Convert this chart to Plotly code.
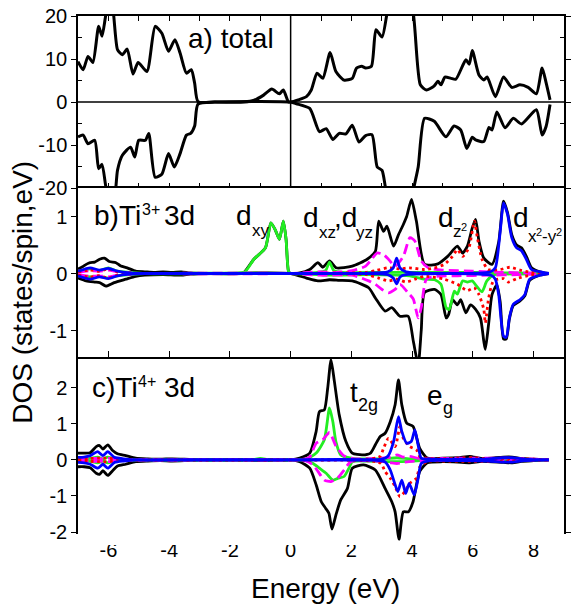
import plotly.graph_objects as go

# ---------------- data (energy in eV, DOS in states/spin/eV) ----------------
# panel a: total DOS
E_a_up = [-7.0,-6.83,-6.67,-6.51,-6.32,-6.21,-6.1,-6.0,-5.88,-5.7,-5.54,-5.38,-5.19,-5.02,-4.73,-4.46,-4.24,-4.02,-3.81,-3.64,-3.43,-3.27,-3.16,-3.05,-2.5,-1.53,-1.2,-0.89,-0.62,-0.37,-0.24,-0.07,0.0,0.25,0.52,0.68,0.87,1.06,1.3,1.49,1.76,2.03,2.17,2.34,2.47,2.66,2.81,3.01,3.17,3.4,3.7,4.04,4.27,4.47,4.72,4.85,4.95,5.08,5.28,5.44,5.77,5.88,5.98,6.2,6.36,6.47,6.74,7.01,7.28,7.55,7.82,8.09,8.28,8.41,8.54]
a_up = [9.4,7.5,10.6,9.2,17.6,15.3,19.6,24.0,23.0,12.2,11.0,12.3,6.5,9.2,7.1,17.6,16.0,11.8,14.5,11.4,6.7,7.5,4.4,0.1,0.0,0.0,0.4,1.6,3.0,1.9,2.8,0.0,0.0,0.5,1.25,2.8,6.7,5.5,11.5,7.1,5.1,5.5,7.9,8.3,7.9,8.3,16.8,15.1,20.5,30.0,30.0,20.5,4.0,2.8,3.7,4.8,4.0,5.8,5.5,5.3,9.8,8.8,12.0,6.3,5.1,5.8,1.25,5.8,3.4,4.0,3.4,1.9,7.9,4.5,0.5]
E_a_dn = [-7.0,-6.83,-6.67,-6.45,-6.32,-6.21,-6.08,-5.95,-5.8,-5.7,-5.54,-5.27,-5.13,-5.0,-4.78,-4.67,-4.46,-4.24,-4.02,-3.83,-3.64,-3.43,-3.29,-3.16,-3.05,-2.5,0.0,0.19,0.63,0.95,1.17,1.39,1.6,1.82,2.03,2.25,2.47,2.68,2.85,3.01,3.12,3.4,3.8,4.06,4.2,4.41,4.73,5.11,5.38,5.6,5.8,5.98,6.09,6.36,6.53,6.63,6.79,7.06,7.33,7.6,8.09,8.28,8.41,8.54]
a_dn = [-8.1,-7.7,-9.7,-8.9,-15.5,-14.5,-19.8,-23.0,-22.0,-15.9,-12.4,-10.5,-12.8,-8.9,-8.9,-7.3,-17.5,-16.8,-12.0,-15.1,-12.0,-7.7,-7.3,-5.6,-0.5,0.0,0.0,-0.4,-1.5,-6.9,-6.2,-8.7,-7.3,-7.4,-5.4,-9.3,-7.8,-7.6,-15.1,-15.9,-19.8,-30.0,-30.0,-19.8,-15.1,-3.8,-4.5,-8.1,-5.6,-6.5,-10.8,-8.2,-8.8,-9.2,-5.9,-6.5,-2.3,-6.0,-3.8,-5.1,-1.8,-7.7,-5.7,-0.6]

# panel b: Ti3+ 3d
E_b_tot_up = [-7.0,-6.85,-6.73,-6.6,-6.45,-6.29,-6.13,-5.97,-5.75,-5.59,-5.38,-5.1,-4.8,-4.5,-4.2,-3.9,-3.6,-3.3,-2.5,-1.6,-1.53,-1.21,-0.83,-0.65,-0.51,-0.37,-0.24,-0.15,-0.07,0.0,0.3,0.63,0.9,1.06,1.28,1.5,2.03,2.52,2.79,2.9,3.06,3.17,3.39,3.55,3.71,3.82,3.98,4.14,4.41,4.85,5.17,5.49,5.66,5.82,5.98,6.09,6.2,6.36,6.63,6.85,7.01,7.14,7.28,7.44,7.6,7.76,7.93,8.2,8.5]
b_tot_up = [0.08,0.12,0.16,0.19,0.20,0.25,0.27,0.21,0.19,0.13,0.10,0.04,0.03,0.02,0.03,0.02,0.03,0.01,0.0,0.0,0.02,0.25,0.45,0.89,0.77,0.60,0.92,0.60,0.04,0.0,0.01,0.07,0.19,0.11,0.22,0.10,0.13,0.25,0.39,0.92,0.74,0.83,0.48,0.68,0.86,1.0,1.30,0.92,0.16,0.17,0.30,0.48,0.36,0.48,0.80,0.95,0.57,0.27,0.16,0.55,1.27,1.07,0.68,0.50,0.45,0.30,0.10,0.03,0.0]
E_b_tot_dn = [-7.0,-6.73,-6.45,-6.29,-6.08,-5.81,-5.43,-5.1,-4.8,-4.2,-3.6,-3.3,-2.5,0.0,0.52,0.9,1.28,1.6,2.03,2.57,2.79,3.11,3.33,3.6,3.87,4.04,4.2,4.3,4.41,4.74,4.95,5.12,5.2,5.33,5.49,5.6,5.77,5.92,6.09,6.25,6.36,6.41,6.52,6.63,6.79,6.9,7.01,7.1,7.2,7.33,7.55,7.71,7.87,8.2,8.5]
b_tot_dn = [-0.08,-0.13,-0.15,-0.16,-0.22,-0.16,-0.10,-0.05,-0.03,-0.02,-0.03,-0.01,0.0,0.0,-0.08,-0.13,-0.11,-0.12,-0.13,-0.25,-0.43,-0.66,-0.60,-0.75,-0.75,-1.19,-1.60,-1.0,-0.33,-0.28,-0.37,-0.78,-0.72,-0.46,-0.55,-0.46,-0.69,-0.55,-0.63,-0.78,-1.19,-1.33,-0.88,-0.37,-0.20,-0.50,-1.15,-1.15,-0.80,-0.56,-0.48,-0.39,-0.12,-0.03,0.0]

E_b_xy_up = [-7.0,-6.6,-6.3,-6.0,-5.7,-5.3,-4.8,-3.0,-1.53,-1.21,-0.83,-0.65,-0.51,-0.37,-0.24,-0.15,-0.07,0.0,0.9,1.15,1.28,1.42,1.7,3.0,4.0,5.0,6.0,7.0,8.5]
b_xy_up = [0.03,0.08,0.05,0.1,0.04,0.02,0.0,0.0,0.02,0.25,0.45,0.89,0.77,0.6,0.92,0.6,0.04,0.0,0.02,0.05,0.2,0.05,0.02,0.02,0.02,0.02,0.02,0.01,0.0]
E_b_xy_dn = [-7.0,-6.6,-6.3,-6.0,-5.7,-5.3,-4.8,0.0,1.28,2.5,3.5,4.0,4.41,4.74,4.95,5.12,5.22,5.39,5.49,5.66,5.82,5.98,6.09,6.3,6.46,6.7,7.5,8.5]
b_xy_dn = [-0.03,-0.06,-0.05,-0.08,-0.04,-0.02,0.0,0.0,-0.03,-0.02,-0.03,-0.05,-0.1,-0.11,-0.19,-0.60,-0.63,-0.31,-0.36,-0.13,-0.15,-0.13,-0.2,-0.32,-0.13,-0.02,-0.01,0.0]

E_b_xz_up = [-7.0,-6.6,-6.3,-6.0,-5.7,-5.3,-4.8,0.0,1.0,1.5,2.03,2.47,2.68,2.85,3.06,3.22,3.44,3.71,3.93,4.09,4.3,4.53,5.0,6.0,7.0,8.5]
b_xz_up = [0.02,0.05,0.04,0.06,0.03,0.01,0.0,0.0,0.03,0.02,0.05,0.13,0.26,0.36,0.33,0.25,0.13,0.30,0.63,0.57,0.22,0.1,0.06,0.04,0.02,0.0]
E_b_xz_dn = [-7.0,-6.6,-6.3,-6.0,-5.7,-5.3,-4.8,0.0,1.0,2.03,2.57,2.79,3.01,3.22,3.44,3.6,3.87,4.04,4.2,4.3,4.47,4.8,5.5,6.5,7.5,8.5]
b_xz_dn = [-0.02,-0.05,-0.04,-0.06,-0.03,-0.01,0.0,0.0,-0.03,-0.03,-0.13,-0.19,-0.28,-0.34,-0.28,-0.19,-0.34,-0.45,-0.78,-0.6,-0.1,-0.05,-0.04,-0.03,-0.02,0.0]

E_b_z2_up = [-7.0,-6.6,-6.3,-6.0,-5.7,-5.3,-4.8,0.0,2.5,2.8,3.2,3.6,3.9,4.41,4.74,5.06,5.33,5.49,5.66,5.87,6.05,6.14,6.3,6.5,6.9,7.22,7.55,7.9,8.5]
b_z2_up = [0.03,0.06,0.04,0.08,0.03,0.01,0.0,0.0,0.02,0.05,0.1,0.08,0.1,0.07,0.1,0.16,0.30,0.42,0.30,0.45,0.92,0.65,0.25,0.07,0.07,0.11,0.06,0.02,0.0]
E_b_z2_dn = [-7.0,-6.6,-6.3,-6.0,-5.7,-5.3,-4.8,0.0,2.5,2.9,3.22,3.5,3.8,4.1,4.41,5.06,5.49,5.82,6.04,6.2,6.36,6.41,6.52,6.68,7.01,7.17,7.44,7.9,8.5]
b_z2_dn = [-0.03,-0.06,-0.04,-0.08,-0.03,-0.01,0.0,0.0,-0.02,-0.08,-0.13,-0.1,-0.15,-0.1,-0.05,-0.1,-0.19,-0.30,-0.25,-0.37,-0.63,-0.87,-0.43,-0.13,-0.09,-0.15,-0.09,-0.03,0.0]

E_b_x2y2_up = [-7.0,-6.6,-6.3,-6.0,-5.7,-5.3,-4.8,0.0,3.2,3.38,3.49,3.6,3.8,6.58,6.74,6.9,7.01,7.14,7.28,7.44,7.6,7.76,7.93,8.3,8.5]
b_x2y2_up = [0.04,0.1,0.06,0.09,0.04,0.01,0.0,0.0,0.03,0.1,0.27,0.1,0.03,0.03,0.10,0.74,1.24,1.04,0.63,0.45,0.40,0.25,0.07,0.02,0.0]
E_b_x2y2_dn = [-7.0,-6.6,-6.3,-6.0,-5.7,-5.3,-4.8,0.0,3.2,3.38,3.49,3.6,3.8,6.6,6.74,6.85,7.01,7.1,7.2,7.33,7.55,7.71,7.87,8.2,8.5]
b_x2y2_dn = [-0.04,-0.1,-0.06,-0.09,-0.04,-0.01,0.0,0.0,-0.02,-0.08,-0.18,-0.06,-0.02,-0.03,-0.1,-0.37,-1.10,-1.12,-0.78,-0.54,-0.46,-0.37,-0.1,-0.03,0.0]

# panel c: Ti4+ 3d
E_c_tot_up = [-7.0,-6.8,-6.6,-6.4,-6.29,-6.18,-6.02,-5.86,-5.7,-5.43,-5.1,-4.7,-4.3,-3.9,-3.5,-3.0,0.0,0.3,0.63,0.84,0.95,1.11,1.22,1.33,1.44,1.6,1.82,2.03,2.36,2.63,2.79,2.95,3.11,3.28,3.44,3.55,3.66,3.82,4.03,4.25,4.5,5.0,5.5,5.9,6.3,7.0,7.3,7.6,8.0,8.5]
c_tot_up = [0.19,0.19,0.2,0.37,0.4,0.3,0.42,0.26,0.17,0.12,0.05,0.03,0.02,0.03,0.02,0.0,0.0,0.05,0.19,0.79,1.34,1.39,1.99,2.78,2.18,1.25,0.51,0.19,0.14,0.19,0.42,0.65,0.74,1.06,1.53,2.22,1.53,1.02,0.93,0.32,0.05,0.05,0.06,0.1,0.04,0.08,0.08,0.04,0.02,0.0]
E_c_tot_dn = [-7.0,-6.8,-6.6,-6.4,-6.29,-6.18,-6.02,-5.86,-5.7,-5.43,-5.1,-4.7,-4.3,-3.9,-3.5,-3.0,0.0,0.3,0.63,0.84,1.01,1.15,1.26,1.36,1.49,1.65,1.87,2.03,2.4,2.79,3.11,3.33,3.44,3.57,3.71,3.88,4.03,4.25,4.5,5.0,5.5,5.9,6.3,7.0,7.3,7.6,8.0,8.5]
c_tot_dn = [-0.19,-0.19,-0.22,-0.37,-0.4,-0.3,-0.43,-0.3,-0.17,-0.12,-0.05,-0.03,-0.02,-0.03,-0.02,0.0,0.0,-0.05,-0.23,-0.69,-1.16,-1.34,-1.48,-1.92,-1.53,-1.11,-0.79,-0.23,-0.14,-0.28,-0.79,-1.16,-1.44,-2.2,-1.44,-1.44,-1.16,-0.32,-0.08,-0.05,-0.06,-0.08,-0.04,-0.07,-0.08,-0.04,-0.02,0.0]

E_c_xy_up = [-7.0,-6.6,-6.35,-6.18,-6.02,-5.8,-5.4,-4.8,-1.3,-1.0,-0.7,0.0,0.5,0.84,1.11,1.28,1.39,1.49,1.65,2.0,3.0,3.5,3.9,4.5,8.5]
c_xy_up = [0.02,0.04,0.08,0.03,0.08,0.03,0.01,0.0,0.0,0.04,0.0,0.0,0.02,0.19,0.56,1.44,1.06,0.51,0.14,0.05,0.03,0.06,0.03,0.01,0.0]
E_c_xy_dn = [-7.0,-6.6,-6.35,-6.18,-6.02,-5.8,-5.4,-4.8,0.0,0.5,0.74,0.95,1.17,1.39,1.55,1.76,1.92,2.03,2.5,3.5,4.5,8.5]
c_xy_dn = [-0.02,-0.04,-0.08,-0.03,-0.08,-0.03,-0.01,0.0,0.0,-0.02,-0.1,-0.23,-0.37,-0.56,-0.51,-0.46,-0.23,-0.05,-0.03,-0.05,-0.01,0.0]

E_c_xz_up = [-7.0,-6.6,-6.3,-6.0,-5.7,-5.3,-4.8,0.0,0.5,0.63,0.84,1.06,1.28,1.49,1.76,2.1,3.0,3.3,3.5,3.7,3.9,4.3,5.0,6.0,7.2,8.5]
c_xz_up = [0.02,0.05,0.03,0.05,0.02,0.01,0.0,0.0,0.03,0.08,0.46,0.56,0.76,0.39,0.11,0.03,0.05,0.08,0.14,0.08,0.1,0.03,0.04,0.05,0.05,0.0]
E_c_xz_dn = [-7.0,-6.6,-6.3,-6.0,-5.7,-5.3,-4.8,0.0,0.5,0.74,0.9,1.11,1.33,1.55,1.76,1.98,3.0,3.3,3.5,3.7,4.0,4.5,8.5]
c_xz_dn = [-0.02,-0.05,-0.03,-0.05,-0.02,-0.01,0.0,0.0,-0.03,-0.14,-0.32,-0.56,-0.6,-0.5,-0.28,-0.05,-0.04,-0.08,-0.1,-0.07,-0.04,-0.02,0.0]

E_c_z2_up = [-7.0,-6.6,-6.3,-6.0,-5.7,-5.3,-4.8,0.0,2.5,2.8,2.95,3.06,3.22,3.44,3.6,3.71,3.92,4.14,4.25,4.5,5.0,5.5,6.0,6.5,7.2,8.5]
c_z2_up = [0.02,0.04,0.05,0.05,0.02,0.01,0.0,0.0,0.02,0.05,0.1,0.32,0.6,0.37,0.93,0.6,0.37,0.28,0.1,0.04,0.03,0.05,0.06,0.03,0.04,0.0]
E_c_z2_dn = [-7.0,-6.6,-6.3,-6.0,-5.7,-5.3,-4.8,0.0,2.5,2.8,2.98,3.11,3.28,3.44,3.6,3.76,3.92,4.14,4.25,4.5,5.0,6.0,7.2,8.5]
c_z2_dn = [-0.02,-0.04,-0.05,-0.05,-0.02,-0.01,0.0,0.0,-0.02,-0.05,-0.1,-0.32,-0.51,-0.74,-1.02,-0.88,-0.65,-0.51,-0.2,-0.04,-0.03,-0.04,-0.03,0.0]

E_c_x2y2_up = [-7.0,-6.8,-6.6,-6.35,-6.18,-6.02,-5.8,-5.5,-5.0,0.0,3.0,3.2,3.39,3.55,3.66,3.82,3.97,4.09,4.2,4.3,4.6,5.5,6.5,7.0,7.3,7.7,8.5]
c_x2y2_up = [0.07,0.08,0.12,0.23,0.12,0.23,0.07,0.03,0.0,0.0,0.02,0.1,0.51,1.20,0.79,0.46,0.51,0.83,0.4,0.05,0.02,0.02,0.03,0.06,0.06,0.02,0.0]
E_c_x2y2_dn = [-7.0,-6.8,-6.6,-6.35,-6.18,-6.02,-5.8,-5.5,-5.0,0.0,3.1,3.28,3.44,3.53,3.66,3.79,3.9,4.07,4.2,4.3,4.6,5.5,6.5,7.0,7.3,7.7,8.5]
c_x2y2_dn = [-0.07,-0.08,-0.12,-0.23,-0.12,-0.23,-0.07,-0.03,0.0,0.0,-0.05,-0.28,-0.69,-0.88,-0.56,-0.93,-0.65,-0.97,-0.5,-0.1,-0.02,-0.02,-0.03,-0.06,-0.06,-0.02,0.0]

x_major_ticks = [-6, -4, -2, 0, 2, 4, 6, 8]
a_ticks = [-20, -10, 0, 10, 20]
b_ticks = [-1, 0, 1]
c_ticks = [-2, -1, 0, 1, 2]

# ---------------- layout geometry (pixels) ----------------
W, H = 573, 608
PL, PR = 78, 571          # plot left / right
PT, PB = 16, 545          # plot area top / bottom (bottom incl. overflow room)
A_TOP, AB, BC, C_BOT = 16, 188, 359, 532
XR = [-7, 9]
A_R = [-20, 20]
B_R = [-1.5, 1.5]
C_R = [-2, 2.8]

def fy(py):
    return (PB - py) / (PB - PT)

def fx(px):
    return (px - PL) / (PR - PL)

# extended data axes so curves can spill across panel borders like the original
B_OVER = 22
b_scale = (BC - AB) / (B_R[1] - B_R[0])
B_DATA_R = [B_R[0] - B_OVER / b_scale, B_R[1]]
c_scale = (C_BOT - BC) / (C_R[1] - C_R[0])
C_DATA_R = [C_R[0] - (PB - C_BOT) / c_scale, C_R[1]]

BLACK = "#000000"
GREEN = "#22ee22"
MAGENTA = "#ff00ff"
RED = "#ff0000"
BLUE = "#0000ff"

fig = go.Figure()

def add(E, V, xa, ya, color, dash="solid", width=2.8):
    if len(E) != len(V):
        raise ValueError("length mismatch %d %d" % (len(E), len(V)))
    fig.add_trace(go.Scatter(x=E, y=V, xaxis=xa, yaxis=ya, mode="lines",
                             line=dict(color=color, width=width, dash=dash,
                                       shape="spline", smoothing=0.6),
                             showlegend=False, hoverinfo="skip"))

DASH = "10px,5px"
DOT = "2.8px,3.6px"

# panel a
add(E_a_up, a_up, "x", "y", BLACK, width=3)
add(E_a_dn, a_dn, "x", "y", BLACK, width=3)
# panel b
for E, V, c, d in [
    (E_b_tot_up, b_tot_up, BLACK, "solid"), (E_b_tot_dn, b_tot_dn, BLACK, "solid"),
    (E_b_xy_up, b_xy_up, GREEN, "solid"), (E_b_xy_dn, b_xy_dn, GREEN, "solid"),
    (E_b_xz_up, b_xz_up, MAGENTA, DASH), (E_b_xz_dn, b_xz_dn, MAGENTA, DASH),
    (E_b_z2_up, b_z2_up, RED, DOT), (E_b_z2_dn, b_z2_dn, RED, DOT),
    (E_b_x2y2_up, b_x2y2_up, BLUE, "solid"), (E_b_x2y2_dn, b_x2y2_dn, BLUE, "solid")]:
    add(E, V, "x2", "y4", c, d)
# panel c
for E, V, c, d in [
    (E_c_tot_up, c_tot_up, BLACK, "solid"), (E_c_tot_dn, c_tot_dn, BLACK, "solid"),
    (E_c_xy_up, c_xy_up, GREEN, "solid"), (E_c_xy_dn, c_xy_dn, GREEN, "solid"),
    (E_c_xz_up, c_xz_up, MAGENTA, DASH), (E_c_xz_dn, c_xz_dn, MAGENTA, DASH),
    (E_c_z2_up, c_z2_up, RED, DOT), (E_c_z2_dn, c_z2_dn, RED, DOT),
    (E_c_x2y2_up, c_x2y2_up, BLUE, "solid"), (E_c_x2y2_dn, c_x2y2_dn, BLUE, "solid")]:
    add(E, V, "x3", "y5", c, d)

# dummy traces so the frame subplots exist
for xa, ya in [("x2", "y2"), ("x3", "y3")]:
    fig.add_trace(go.Scatter(x=[None], y=[None], xaxis=xa, yaxis=ya,
                             showlegend=False, hoverinfo="skip"))

FONT = "Liberation Sans, Arial, sans-serif"
TICKF = dict(family=FONT, size=20, color="black")

def lab(v):
    return str(v)

common_x = dict(range=XR, domain=[0, 1], showline=True, linecolor="black",
                linewidth=1.5, mirror="ticks", showgrid=False, zeroline=False)
fig.update_layout(
    xaxis=dict(**common_x, anchor="y", tickmode="array",
               tickvals=list(range(-6, 9)), ticks="inside", ticklen=5,
               tickwidth=1.2, tickcolor="black", showticklabels=False),
    xaxis2=dict(**common_x, anchor="y2", tickmode="array",
                tickvals=list(range(-6, 9)), ticks="inside", ticklen=5,
                tickwidth=1.2, tickcolor="black", showticklabels=False),
    xaxis3=dict(**common_x, anchor="y3", tickmode="array",
                tickvals=x_major_ticks, ticktext=[lab(v) for v in x_major_ticks],
                ticks="outside", ticklen=6, tickwidth=1.2, tickcolor="black",
                tickfont=TICKF, ticklabelstandoff=-7,
                minor=dict(tickmode="array", tickvals=[-5, -3, -1, 1, 3, 5, 7],
                           ticks="inside", ticklen=4, tickwidth=1.2,
                           tickcolor="black")),
)

def yax(dom, rng, ticks, minor, anchor):
    return dict(domain=dom, range=rng, anchor=anchor, showline=True,
                linecolor="black", linewidth=1.5, mirror="ticks",
                showgrid=False, zeroline=False, tickmode="array",
                tickvals=ticks, ticktext=[lab(v) for v in ticks],
                ticks="outside", ticklen=5, tickwidth=1.2, tickcolor="black",
                tickfont=TICKF,
                minor=dict(tickmode="array", tickvals=minor, ticks="inside",
                           ticklen=4, tickwidth=1.2, tickcolor="black"))

fig.update_layout(
    yaxis=yax([fy(AB), fy(A_TOP)], A_R, a_ticks, [-15, -5, 5, 15], "x"),
    yaxis2=yax([fy(BC), fy(AB)], B_R, b_ticks, [-0.5, 0.5], "x2"),
    yaxis3=yax([fy(C_BOT), fy(BC)], C_R, c_ticks, [-1.5, -0.5, 0.5, 1.5, 2.5], "x3"),
    yaxis4=dict(domain=[fy(BC + B_OVER), fy(AB)], range=B_DATA_R, anchor="x2",
                visible=False),
    yaxis5=dict(domain=[0, fy(BC)], range=C_DATA_R, anchor="x3", visible=False),
)

# zero lines
shapes = [dict(type="line", xref="x3", yref="paper", x0=0, x1=0,
               y0=fy(C_BOT), y1=fy(A_TOP), line=dict(color="black", width=1.5),
               layer="below")]
for ya in ["y", "y2", "y3"]:
    shapes.append(dict(type="line", xref="x", yref=ya, x0=XR[0], x1=XR[1],
                       y0=0, y1=0, line=dict(color="black", width=1.5),
                       layer="below"))
fig.update_layout(shapes=shapes)

# text pieces: (text, left px, baseline px, font size)
labels = [
    ("a) total", 188, 48, 28),
    ("b)Ti", 92, 225, 28), ("3+", 140.5, 215, 16), ("3d", 163, 225, 28),
    ("d", 236, 225, 28), ("xy", 252, 236, 17),
    ("d", 304, 227, 28), ("xz", 320, 238, 17), (",d", 336, 227, 28), ("yz", 358, 238, 17),
    ("d", 441, 227, 28), ("z", 456.5, 237, 17), ("2", 464.5, 231, 11),
    ("d", 517, 227, 28), ("x", 532.5, 242, 17), ("2", 541, 236, 11),
    ("-y", 547, 242, 17), ("2", 561, 236, 11),
    ("c)Ti", 90, 397, 28), ("4+", 137, 387, 16), ("3d", 163, 397, 28),
    ("t", 352, 402, 28), ("2g", 360, 411, 18),
    ("e", 430, 405, 28), ("g", 446, 414, 18),
]
annotations = []
for t, px, base, s in labels:
    annotations.append(dict(text=t, x=fx(px), y=fy(base - 0.3465 * s),
                            xref="paper", yref="paper", xanchor="left",
                            yanchor="middle", showarrow=False,
                            font=dict(family=FONT, size=s, color="black")))
TF = dict(family=FONT, size=28, color="black")
annotations.append(dict(text="DOS (states/spin,eV)", textangle=-90,
                        x=fx(21), y=fy(292), xref="paper", yref="paper",
                        xanchor="center", yanchor="middle", showarrow=False,
                        font=TF))
annotations.append(dict(text="Energy (eV)", x=fx(329), y=fy(588),
                        xref="paper", yref="paper", xanchor="center",
                        yanchor="middle", showarrow=False, font=TF))
fig.update_layout(annotations=annotations)

fig.update_layout(width=W, height=H,
                  margin=dict(l=PL, r=W - PR, t=PT, b=H - PB, pad=0),
                  plot_bgcolor="white", paper_bgcolor="white",
                  font=dict(family=FONT, color="black"))

fig.write_html("out.html")
